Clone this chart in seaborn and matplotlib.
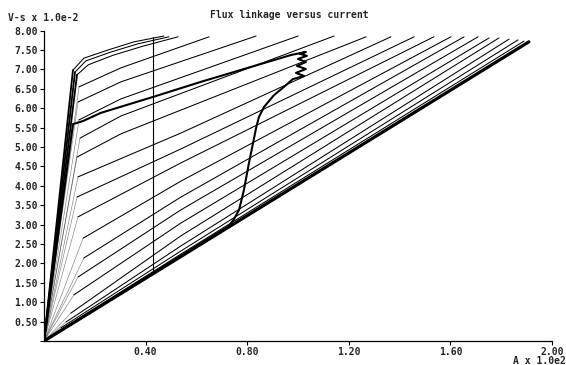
import numpy as np
import pandas as pd
import matplotlib
matplotlib.use("Agg")
import matplotlib.pyplot as plt
import seaborn as sns

# ---------------- data (current in A x 1e2, flux in V-s x 1e-2) ----------------
curves = ["A1", "A2", "A3", "B", "C", "D", "E", "F", "G", "H",
          "I", "J", "K", "L", "M", "N", "O", "P", "Q"]
knee_i = [0.114, 0.122, 0.130, 0.138, 0.134, 0.138, 0.142, 0.130, 0.134, 0.130,
          0.134, 0.154, 0.157, 0.134, 0.118, 0.106, 0.087, 0.067, 0.047]
knee_flux = [6.98, 6.93, 6.86, 6.55, 6.16, 5.70, 5.23, 4.74, 4.23, 3.71,
             3.20, 2.65, 2.14, 1.65, 1.19, 0.72, 0.49, 0.34, 0.21]
mid_i = [[0.157, 0.252, 0.354], [0.165, 0.260, 0.370], [0.175, 0.270, 0.390],
         [0.303], [0.303], [0.303], [0.303], [0.303],
         [0.539], [0.539], [0.539], [0.539], [0.539], [0.539], [0.539],
         [0.539], [0.539], [0.539], [0.539]]
mid_flux = [[7.29, 7.50, 7.71], [7.22, 7.44, 7.66], [7.12, 7.36, 7.60],
            [7.04], [6.68], [6.24], [5.80], [5.34],
            [5.36], [4.95], [4.59], [4.12], [3.71], [3.38], [3.04],
            [2.71], [2.45], [2.32], [2.24]]
end_i = [0.472, 0.492, 0.528, 0.650, 0.835, 1.000, 1.142, 1.268, 1.366, 1.457,
         1.535, 1.602, 1.654, 1.709, 1.752, 1.791, 1.831, 1.866, 1.890]
end_flux = [7.86, 7.84, 7.84, 7.84, 7.86, 7.86, 7.86, 7.84, 7.84, 7.84,
            7.84, 7.84, 7.84, 7.84, 7.81, 7.81, 7.78, 7.76, 7.73]

unaligned_i = [0.0, 1.909]
unaligned_flux = [0.0, 7.71]

vert_i = [0.429, 0.429]
vert_flux = [1.73, 7.84]

traj_i = [0.0, 0.728, 0.748, 0.768, 0.787, 0.807, 0.823, 0.835, 0.846, 0.866,
          0.906, 0.945, 0.980, 1.024, 0.992, 1.031, 0.996, 1.031, 1.000, 1.035,
          1.008, 1.031, 0.972, 0.618, 0.429, 0.224, 0.154, 0.114, 0.0]
traj_flux = [0.0, 2.96, 3.14, 3.38, 3.89, 4.59, 5.10, 5.49, 5.77, 6.03,
             6.34, 6.55, 6.75, 6.83, 6.91, 7.01, 7.09, 7.19, 7.27, 7.35,
             7.40, 7.45, 7.37, 6.68, 6.29, 5.88, 5.67, 5.59, 0.0]

x_ticks = [0.40, 0.80, 1.20, 1.60, 2.00]
y_ticks = [0.0, 0.5, 1.0, 1.5, 2.0, 2.5, 3.0, 3.5, 4.0, 4.5, 5.0, 5.5, 6.0,
           6.5, 7.0, 7.5, 8.0]

# ---------------- tables ----------------
post_rows, pre_rows = [], []
for k, name in enumerate(curves):
    xs = [knee_i[k]] + mid_i[k] + [end_i[k]]
    ys = [knee_flux[k]] + mid_flux[k] + [end_flux[k]]
    for x, y in zip(xs, ys):
        post_rows.append({"curve": name, "i": x, "flux": y})
    pre_rows.append({"curve": name, "i": 0.0, "flux": 0.0})
    pre_rows.append({"curve": name, "i": knee_i[k], "flux": knee_flux[k]})
post = pd.DataFrame(post_rows)
pre = pd.DataFrame(pre_rows)
pre_strong = pre[pre["curve"].isin(["A1", "A2", "A3"])]
pre_weak = pre[~pre["curve"].isin(["A1", "A2", "A3"])]
unaligned = pd.DataFrame({"i": unaligned_i, "flux": unaligned_flux})
vert = pd.DataFrame({"i": vert_i, "flux": vert_flux})
traj = pd.DataFrame({"i": traj_i, "flux": traj_flux})

# ---------------- figure ----------------
sns.set_style("ticks")
plt.rcParams["font.family"] = ["DejaVu Sans Mono"]
fig = plt.figure(figsize=(5.66, 3.65), dpi=100)
ax = fig.add_axes([44 / 566, 24 / 365, 508 / 566, 310.4 / 365])

common = dict(x="i", y="flux", estimator=None, sort=False, color="black",
              legend=False, ax=ax)
sns.lineplot(data=pre_weak, units="curve", lw=0.5, alpha=0.45, **common)
sns.lineplot(data=pre_strong, units="curve", lw=1.3, **common)
sns.lineplot(data=post, units="curve", lw=0.75, **common)
sns.lineplot(data=unaligned, lw=2.3, **common)
sns.lineplot(data=vert, lw=0.8, **common)
sns.lineplot(data=traj, lw=1.5, **common)

ax.set_xlim(0, 2.0)
ax.set_ylim(0, 8.0)
ax.set_xticks(x_ticks)
ax.set_xticklabels([f"{v:.2f}" for v in x_ticks])
ax.set_yticks(y_ticks)
ax.set_yticklabels(["" if v == 0 else f"{v:.2f}" for v in y_ticks])
ax.set_xlabel("")
ax.set_ylabel("")
for lab in ax.get_xticklabels() + ax.get_yticklabels():
    lab.set_fontsize(7)
    lab.set_fontweight("bold")
ax.tick_params(axis="both", length=3, width=0.8, color="black", pad=1.5)
sns.despine(ax=ax)
for s in ("left", "bottom"):
    ax.spines[s].set_linewidth(0.9)
    ax.spines[s].set_color("black")

fig.text(0.512, 0.958, "Flux linkage versus current", ha="center", va="center",
         fontsize=7, fontweight="bold")
fig.text(0.014, 0.950, "V-s x 1.0e-2", ha="left", va="center",
         fontsize=7, fontweight="bold")
fig.text(0.999, 0.010, "A x 1.0e2", ha="right", va="center",
         fontsize=7, fontweight="bold")

fig.savefig("out.png", dpi=100, facecolor="white")
